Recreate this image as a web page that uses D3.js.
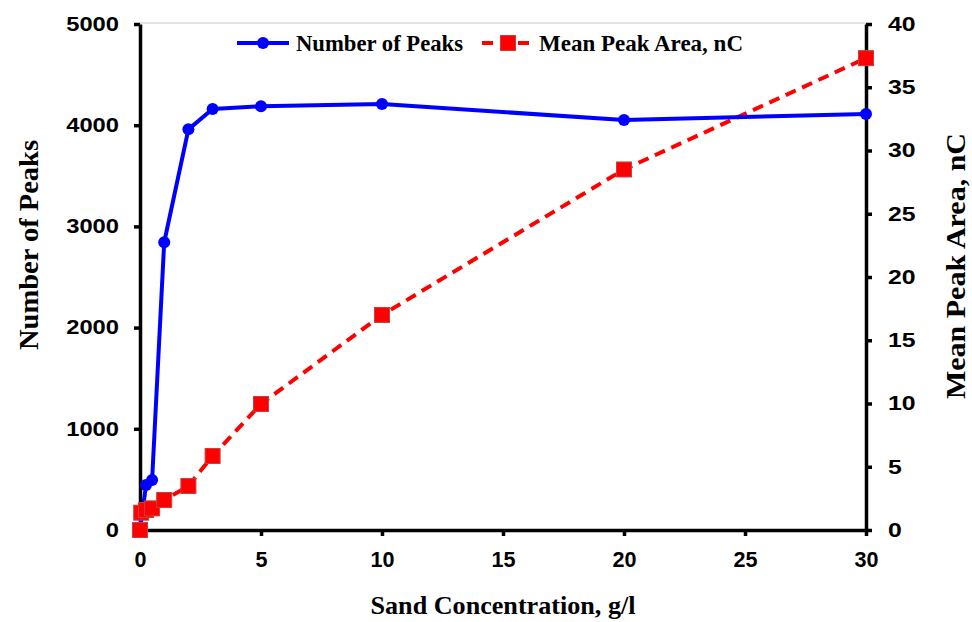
<!DOCTYPE html>
<html>
<head>
<meta charset="utf-8">
<script src="https://cdn.jsdelivr.net/npm/d3@7"></script>
<style>
  body { margin: 0; background: #fff; }
  svg { display: block; }
</style>
</head>
<body>
<div id="chart"></div>
<script>
// sand concentration (g/l) for each series
const peakConc = [0, 0.25, 0.5, 1, 2, 3, 5, 10, 20, 30];
const peakCount = [0, 445, 494, 2843, 3959, 4160, 4187, 4209, 4051, 4111];
const areaConc = [0, 0.05, 0.25, 0.5, 1, 2, 3, 5, 10, 20, 30];
const areaMean = [0, 1.37, 1.58, 1.71, 2.37, 3.48, 5.85, 9.96, 17.0, 28.5, 37.3];

const xTicks = [0, 5, 10, 15, 20, 25, 30];
const leftTicks = [0, 1000, 2000, 3000, 4000, 5000];
const rightTicks = [0, 5, 10, 15, 20, 25, 30, 35, 40];

const width = 972;
const height = 622;
const margin = { top: 24, right: 106, bottom: 92, left: 140 };
const innerWidth = width - margin.left - margin.right;
const innerHeight = height - margin.top - margin.bottom;

const x = d3.scaleLinear().domain([0, 30]).range([0, innerWidth]);
const yLeft = d3.scaleLinear().domain([0, 5000]).range([innerHeight, 0]);
const yRight = d3.scaleLinear().domain([0, 40]).range([innerHeight, 0]);

const svg = d3.select('#chart')
  .append('svg')
  .attr('width', width)
  .attr('height', height);

const plot = svg.append('g')
  .attr('transform', `translate(${margin.left},${margin.top})`);

// thin grey frame line across the top
plot.append('line')
  .attr('x1', 0).attr('x2', innerWidth)
  .attr('y1', -1).attr('y2', -1)
  .attr('stroke', '#c8c8c8')
  .attr('stroke-width', 1);

const tickFont = 'Liberation Sans, Arial, sans-serif';
const titleFont = 'Liberation Serif, Times New Roman, serif';

// the original labels are a little stretched or squeezed, so set their width per digit
function styleAxis(g, size, digitWidth) {
  g.select('.domain').attr('stroke', '#000').attr('stroke-width', 3.5);
  g.selectAll('.tick line').attr('stroke', '#000').attr('stroke-width', 3.5);
  g.selectAll('.tick text')
    .attr('font-family', tickFont)
    .attr('font-weight', 700)
    .attr('font-size', size)
    .attr('fill', '#000')
    .attr('textLength', function () { return this.textContent.length * digitWidth; })
    .attr('lengthAdjust', 'spacingAndGlyphs');
}

plot.append('g')
  .attr('transform', `translate(0,${innerHeight})`)
  .call(d3.axisBottom(x).tickValues(xTicks).tickFormat(d3.format('d'))
    .tickSize(6).tickSizeOuter(0).tickPadding(15))
  .call((g) => styleAxis(g, 22, 12));

plot.append('g')
  .call(d3.axisLeft(yLeft).tickValues(leftTicks).tickFormat(d3.format('d'))
    .tickSize(6).tickSizeOuter(0).tickPadding(15))
  .call((g) => styleAxis(g, 19.5, 13.2));

plot.append('g')
  .attr('transform', `translate(${innerWidth},0)`)
  .call(d3.axisRight(yRight).tickValues(rightTicks).tickFormat(d3.format('d'))
    .tickSize(6).tickSizeOuter(0).tickPadding(16))
  .call((g) => styleAxis(g, 19.5, 13.8));

// axis titles
svg.append('text')
  .attr('x', margin.left + innerWidth / 2)
  .attr('y', 614)
  .attr('text-anchor', 'middle')
  .attr('font-family', titleFont)
  .attr('font-weight', 700)
  .attr('font-size', 26)
  .attr('textLength', 265)
  .attr('lengthAdjust', 'spacingAndGlyphs')
  .text('Sand Concentration, g/l');

svg.append('text')
  .attr('transform', 'translate(38,245) rotate(-90)')
  .attr('text-anchor', 'middle')
  .attr('font-family', titleFont)
  .attr('font-weight', 700)
  .attr('font-size', 28)
  .attr('textLength', 210)
  .attr('lengthAdjust', 'spacingAndGlyphs')
  .text('Number of Peaks');

svg.append('text')
  .attr('transform', 'translate(965,266) rotate(-90)')
  .attr('text-anchor', 'middle')
  .attr('font-family', titleFont)
  .attr('font-weight', 700)
  .attr('font-size', 28)
  .attr('textLength', 266)
  .attr('lengthAdjust', 'spacingAndGlyphs')
  .text('Mean Peak Area, nC');

// mean peak area series (red dashed, squares)
const areaData = areaConc.map((c, i) => ({ c, v: areaMean[i] }));
const peakData = peakConc.map((c, i) => ({ c, v: peakCount[i] }));

plot.append('path')
  .datum(areaData)
  .attr('fill', 'none')
  .attr('stroke', '#ff0000')
  .attr('stroke-width', 4)
  .attr('stroke-dasharray', '11 7')
  .attr('d', d3.line().x((d) => x(d.c)).y((d) => yRight(d.v)));

// number of peaks series (blue, circles)
plot.append('path')
  .datum(peakData)
  .attr('fill', 'none')
  .attr('stroke', '#0000ff')
  .attr('stroke-width', 4)
  .attr('stroke-linejoin', 'round')
  .attr('d', d3.line().x((d) => x(d.c)).y((d) => yLeft(d.v)));

plot.selectAll('circle.peak')
  .data(peakData)
  .join('circle')
  .attr('class', 'peak')
  .attr('cx', (d) => x(d.c))
  .attr('cy', (d) => yLeft(d.v))
  .attr('r', 6)
  .attr('fill', '#0000ff');

const sq = 15;
plot.selectAll('rect.area')
  .data(areaData)
  .join('rect')
  .attr('class', 'area')
  .attr('x', (d) => x(d.c) - sq / 2)
  .attr('y', (d) => yRight(d.v) - sq / 2)
  .attr('width', sq)
  .attr('height', sq)
  .attr('fill', '#ff0000')
  .attr('stroke', '#c84040')
  .attr('stroke-width', 1);

// legend
const legend = svg.append('g').attr('transform', 'translate(0,43)');
legend.append('line')
  .attr('x1', 237).attr('x2', 289)
  .attr('stroke', '#0000ff').attr('stroke-width', 4);
legend.append('circle')
  .attr('cx', 263).attr('r', 6).attr('fill', '#0000ff');
legend.append('text')
  .attr('x', 296).attr('y', 8)
  .attr('font-family', titleFont)
  .attr('font-weight', 700)
  .attr('font-size', 22.5)
  .attr('textLength', 167)
  .attr('lengthAdjust', 'spacingAndGlyphs')
  .text('Number of Peaks');

legend.append('line')
  .attr('x1', 482).attr('x2', 532)
  .attr('stroke', '#ff0000').attr('stroke-width', 4)
  .attr('stroke-dasharray', '11 7');
legend.append('rect')
  .attr('x', 508 - sq / 2).attr('y', -sq / 2)
  .attr('width', sq).attr('height', sq)
  .attr('fill', '#ff0000')
  .attr('stroke', '#c84040').attr('stroke-width', 1);
legend.append('text')
  .attr('x', 539).attr('y', 8)
  .attr('font-family', titleFont)
  .attr('font-weight', 700)
  .attr('font-size', 22.5)
  .attr('textLength', 204)
  .attr('lengthAdjust', 'spacingAndGlyphs')
  .text('Mean Peak Area, nC');
</script>
</body>
</html>
